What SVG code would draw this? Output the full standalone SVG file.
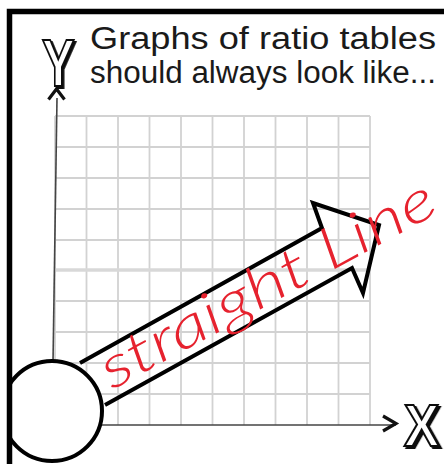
<svg xmlns="http://www.w3.org/2000/svg" width="444" height="464" viewBox="0 0 444 464">
  <defs>
    <clipPath id="inside">
      <rect x="10" y="0" width="434" height="464"/>
    </clipPath>
    <filter id="shadow" x="-20%" y="-20%" width="150%" height="150%">
      <feDropShadow dx="2.5" dy="2" stdDeviation="0" flood-color="#111" flood-opacity="1"/>
    </filter>
  </defs>
  <style>
    .grid { stroke: #d2d2d2; stroke-width: 1.8; fill: none; }
    .axis { stroke: #444; stroke-width: 1.6; fill: none; }
    .chev { stroke: #111; stroke-width: 3.2; fill: none; stroke-linejoin: miter; }
    .title { font-family: "Liberation Sans", Arial, sans-serif; font-size: 31px; fill: #1a1a1a; }
    .letter { font-family: "Liberation Sans", sans-serif; font-weight: bold; fill: #fff; stroke: #111; stroke-width: 2.2; filter: url(#shadow); }
    .script { font-family: Lato, "Noto Sans", sans-serif; font-style: italic; font-weight: 300; font-size: 58px; fill: #e6222e; }
  </style>
  <rect width="444" height="464" fill="#fff"/>

  <g id="grid">
    <path class="grid" d="M55,116V425 M86.5,116V425 M118,116V425 M149.5,116V425 M181,116V425 M212.5,116V425 M244,116V425 M275.5,116V425 M307,116V425 M338.5,116V425 M370,116V425"/>
    <path class="grid" d="M55,116H370 M55,147H370 M55,178H370 M55,209H370 M55,240H370 M55,270H370 M55,301H370 M55,332H370 M55,363H370 M55,394H370"/>
    <path d="M55,270H370" stroke="#d8d8d8" stroke-width="3.5"/>
  </g>

  <g id="title">
    <text class="title" x="90" y="49" textLength="346" lengthAdjust="spacingAndGlyphs">Graphs of ratio tables</text>
    <text class="title" x="90" y="83" textLength="346" lengthAdjust="spacingAndGlyphs">should always look like...</text>
  </g>

  <g id="connectors">
    <path class="axis" d="M57,98 L53,362"/>
    <path class="chev" d="M48.5,99.5 L56.5,89 L64.5,99.5"/>
    <path class="axis" d="M101,425 H396"/>
    <path class="chev" d="M383,416 L396,423.5 L383,431"/>
  </g>

  <g id="y-label">
    <text class="letter" font-size="66" transform="translate(42,86) scale(0.74,1)">Y</text>
  </g>

  <g id="x-label">
    <text class="letter" font-size="60" transform="translate(404,446) scale(0.88,1)">X</text>
  </g>

  <g id="big-arrow">
    <path d="M80,363 L322,228 L313,203 L379,225 L363,293 L352,268 L105,405" fill="none" stroke="#000" stroke-width="4" stroke-linejoin="miter"/>
  </g>

  <g id="origin">
    <circle cx="52" cy="411" r="50" fill="#fff" stroke="#000" stroke-width="4" clip-path="url(#inside)"/>
  </g>

  <g id="frame">
    <path d="M9.5,464 V11.5 H444" fill="none" stroke="#000" stroke-width="5.5"/>
  </g>

  <g id="label">
    <text class="script" transform="translate(112,390) rotate(-28.5)" textLength="374" lengthAdjust="spacingAndGlyphs">straight Line</text>
  </g>
</svg>
